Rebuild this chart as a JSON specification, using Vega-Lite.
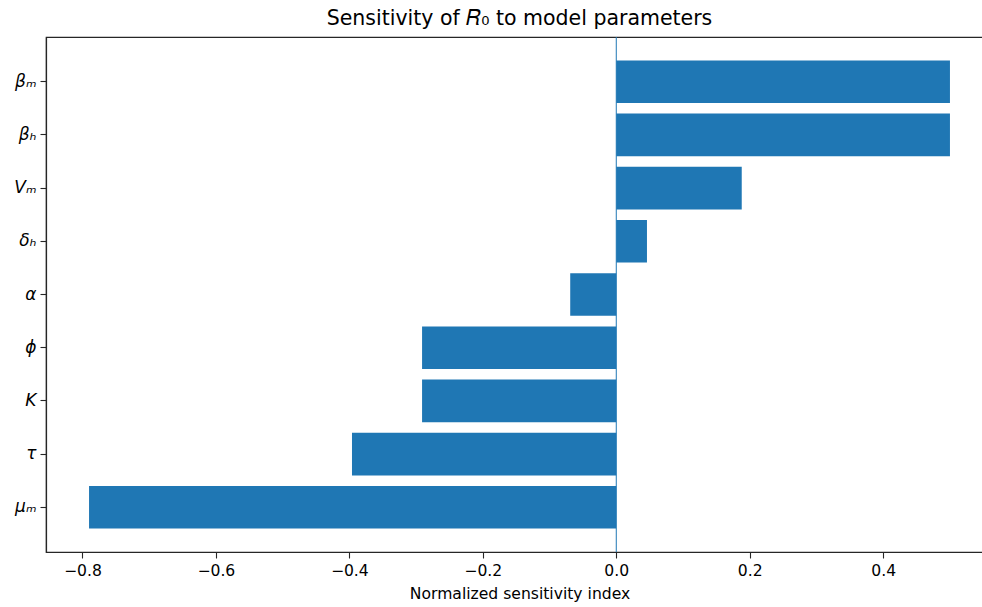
{
  "$schema": "https://vega.github.io/schema/vega-lite/v6.json",
  "autosize": {"type": "none"},
  "padding": {"left": 46, "top": 37, "right": 0, "bottom": 55},
  "width": 947,
  "height": 515,
  "background": "white",
  "title": {
    "text": "Sensitivity of 𝑅₀ to model parameters",
    "font": "DejaVu Sans",
    "fontSize": 20.5,
    "fontWeight": "normal",
    "color": "black",
    "anchor": "middle",
    "offset": 7
  },
  "config": {
    "view": {"stroke": "#262626", "strokeWidth": 1.2},
    "axis": {
      "labelFont": "DejaVu Sans",
      "titleFont": "DejaVu Sans",
      "labelColor": "black",
      "titleColor": "black",
      "domainColor": "#262626",
      "tickColor": "#262626",
      "grid": false,
      "labelFontSize": 15.6,
      "titleFontSize": 15.6,
      "titleFontWeight": "normal",
      "tickSize": 6,
      "tickWidth": 1.1,
      "domainWidth": 1.2
    }
  },
  "data": {
    "values": [
      {"param": "βₘ", "value": 0.5},
      {"param": "βₕ", "value": 0.5},
      {"param": "Vₘ", "value": 0.188},
      {"param": "δₕ", "value": 0.046},
      {"param": "α", "value": -0.069},
      {"param": "ϕ", "value": -0.291},
      {"param": "K", "value": -0.291},
      {"param": "τ", "value": -0.396},
      {"param": "μₘ", "value": -0.79}
    ]
  },
  "layer": [
    {
      "mark": {"type": "bar", "color": "#1f77b4"},
      "encoding": {
        "y": {
          "field": "param",
          "type": "nominal",
          "sort": null,
          "scale": {"paddingInner": 0.2, "paddingOuter": 0.44},
          "axis": {"title": null, "labelFontStyle": "italic", "labelFontSize": 17, "labelPadding": 4}
        },
        "x": {
          "field": "value",
          "type": "quantitative",
          "scale": {"domain": [-0.8545, 0.5645], "nice": false, "zero": false},
          "axis": {
            "title": "Normalized sensitivity index",
            "values": [-0.8, -0.6, -0.4, -0.2, 0.0, 0.2, 0.4],
            "format": ".1f",
            "labelPadding": 5,
            "titlePadding": 8
          }
        }
      }
    },
    {
      "data": {"values": [{"zero": 0}]},
      "mark": {"type": "rule", "color": "#1f77b4", "strokeWidth": 1},
      "encoding": {
        "x": {"field": "zero", "type": "quantitative"}
      }
    }
  ]
}
